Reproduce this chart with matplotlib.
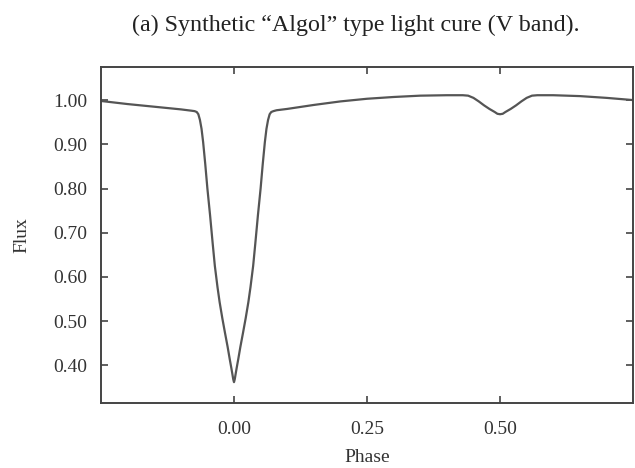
import matplotlib
matplotlib.use("Agg")
import matplotlib.pyplot as plt

phase = [-0.25, -0.20, -0.15, -0.10, -0.080, -0.074, -0.070, -0.067, -0.064, -0.061,
         -0.058, -0.054, -0.050, -0.045, -0.040, -0.036, -0.031, -0.027, -0.022, -0.017,
         -0.012, -0.008, -0.005, -0.003, -0.0015, 0.0, 0.0015, 0.003, 0.005, 0.008,
         0.012, 0.017, 0.022, 0.027, 0.031, 0.036, 0.040, 0.045, 0.050, 0.054,
         0.058, 0.061, 0.064, 0.067, 0.070, 0.074, 0.080, 0.10, 0.15, 0.20,
         0.25, 0.30, 0.35, 0.40, 0.43, 0.44, 0.45, 0.46, 0.47, 0.48,
         0.49, 0.495, 0.50, 0.505, 0.51, 0.52, 0.53, 0.54, 0.55, 0.56,
         0.57, 0.60, 0.65, 0.70, 0.75]
flux = [0.998, 0.991, 0.985, 0.979, 0.976, 0.975, 0.973, 0.968, 0.955, 0.935,
        0.905, 0.855, 0.80, 0.74, 0.675, 0.625, 0.577, 0.543, 0.507, 0.474,
        0.442, 0.414, 0.394, 0.380, 0.369, 0.362, 0.369, 0.380, 0.394, 0.414,
        0.442, 0.474, 0.507, 0.543, 0.577, 0.625, 0.675, 0.74, 0.80, 0.855,
        0.905, 0.935, 0.955, 0.968, 0.973, 0.975, 0.977, 0.980, 0.989, 0.997,
        1.003, 1.007, 1.010, 1.011, 1.011, 1.010, 1.005, 0.997, 0.988, 0.980,
        0.973, 0.969, 0.968, 0.969, 0.973, 0.980, 0.988, 0.997, 1.005, 1.010,
        1.011, 1.011, 1.009, 1.005, 1.000]

xticks = [0.00, 0.25, 0.50]
xticklabels = ["0.00", "0.25", "0.50"]
yticks = [0.40, 0.50, 0.60, 0.70, 0.80, 0.90, 1.00]
yticklabels = ["0.40", "0.50", "0.60", "0.70", "0.80", "0.90", "1.00"]

plt.rcParams['font.family'] = ['Liberation Serif', 'DejaVu Serif']

fig = plt.figure(figsize=(6.35, 4.68), dpi=100)
ax = fig.add_axes([0.159, 0.139, 0.838, 0.718])
ax.plot(phase, flux, color='#555555', lw=1.6, solid_joinstyle='round')
ax.set_xlim(-0.25, 0.75)
ax.set_ylim(0.315, 1.075)
ax.set_xticks(xticks)
ax.set_xticklabels(xticklabels)
ax.set_yticks(yticks)
ax.set_yticklabels(yticklabels)
ax.tick_params(direction='in', top=True, right=True, length=5, width=1.2,
               color='#444444', labelsize=14, labelcolor='#333333')
ax.tick_params(axis='x', pad=13)
ax.tick_params(axis='y', pad=10)
for s in ax.spines.values():
    s.set_linewidth(1.4)
    s.set_color('#444444')
ax.set_xlabel('Phase', fontsize=14, color='#333333', labelpad=8)
ax.set_ylabel('Flux', fontsize=14, color='#333333', labelpad=16)
ax.set_title('(a) Synthetic \u201cAlgol\u201d type light cure (V band).', fontsize=17.3,
             color='#222222', pad=26, x=0.479)
fig.savefig('out.png', dpi=100)
